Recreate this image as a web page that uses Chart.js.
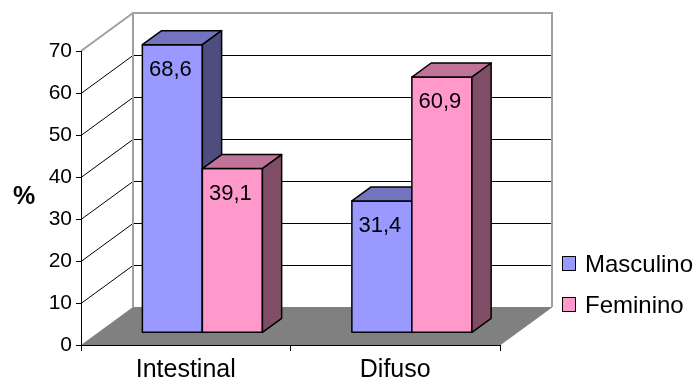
<!DOCTYPE html>
<html>
<head>
<meta charset="utf-8">
<script src="https://cdn.jsdelivr.net/npm/chart.js@4.4.1/dist/chart.umd.min.js"></script>
<style>
  html, body { margin: 0; padding: 0; background: #fff; }
  #wrap { width: 696px; height: 385px; }
</style>
</head>
<body>
<div id="wrap"><canvas id="chart" width="696" height="385"></canvas></div>
<script>
const categories = ["Intestinal", "Difuso"];
const masculino = [68.6, 31.4];
const feminino = [39.1, 60.9];
const yMax = 70;
const yStep = 10;

const FONT = "'Liberation Sans', Arial, sans-serif";

/* ---------- 3D LOOK ---------- */

const DEPTH = { x: 52, y: -38 };      // full depth of floor / walls
const BAR_FRONT = 0.32;               // bars sit between these depth fractions
const BAR_BACK = 0.69;

const faces = [
  { front: "#9999ff", top: "#7373bf", side: "#4d4d80" },
  { front: "#ff99cc", top: "#bf7399", side: "#804d66" }
];

function fmt(v) {
  return v.toFixed(1).replace(".", ",");
}

function poly(ctx, pts, fill, stroke, lw) {
  ctx.beginPath();
  ctx.moveTo(pts[0][0], pts[0][1]);
  for (let i = 1; i < pts.length; i++) ctx.lineTo(pts[i][0], pts[i][1]);
  ctx.closePath();
  if (fill) { ctx.fillStyle = fill; ctx.fill(); }
  if (stroke) { ctx.strokeStyle = stroke; ctx.lineWidth = lw || 1; ctx.stroke(); }
}

/* ---------- PLUGIN: WALLS + FLOOR ---------- */

const walls = {
  id: "walls",
  beforeDraw(chart) {
    const { ctx, chartArea: a, scales } = chart;
    const y = scales.y;
    const dx = DEPTH.x, dy = DEPTH.y;
    ctx.save();

    // floor
    poly(ctx, [[a.left, a.bottom], [a.right, a.bottom], [a.right + dx, a.bottom + dy], [a.left + dx, a.bottom + dy]], "#808080");

    // gridlines on back wall and left wall
    ctx.strokeStyle = "#000";
    ctx.lineWidth = 1;
    for (let v = yStep; v < yMax; v += yStep) {
      const py = Math.round(y.getPixelForValue(v)) + 0.5;
      ctx.beginPath();
      ctx.moveTo(a.left, py);
      ctx.lineTo(a.left + dx, py + dy);
      ctx.lineTo(a.right + dx, py + dy);
      ctx.stroke();
    }

    // wall outlines
    const top = y.getPixelForValue(yMax);
    ctx.strokeStyle = "#a0a0a0";
    ctx.lineWidth = 2;
    ctx.beginPath();
    ctx.moveTo(a.left, top);
    ctx.lineTo(a.left + dx, top + dy);
    ctx.lineTo(a.right + dx, top + dy);
    ctx.lineTo(a.right + dx, a.bottom + dy);
    ctx.moveTo(a.left + dx, top + dy);
    ctx.lineTo(a.left + dx, a.bottom + dy);
    ctx.stroke();

    // right floor edge
    ctx.strokeStyle = "#808080";
    ctx.lineWidth = 1;
    ctx.beginPath();
    ctx.moveTo(a.right + dx, a.bottom + dy);
    ctx.lineTo(a.right, a.bottom);
    ctx.stroke();

    ctx.restore();
  }
};

/* ---------- PLUGIN: 3D BARS + LABELS ---------- */

const bars3d = {
  id: "bars3d",
  beforeDatasetsDraw(chart) {
    const { ctx } = chart;
    const fx = DEPTH.x * BAR_FRONT, fy = DEPTH.y * BAR_FRONT;
    const bx = DEPTH.x * (BAR_BACK - BAR_FRONT), by = DEPTH.y * (BAR_BACK - BAR_FRONT);
    const labels = [];
    ctx.save();
    ctx.lineJoin = "round";
    categories.forEach((c, i) => {
      chart.data.datasets.forEach((ds, d) => {
        const el = chart.getDatasetMeta(d).data[i];
        const p = el.getProps(["x", "y", "base", "width"], true);
        const L = p.x - p.width / 2 + fx, R = p.x + p.width / 2 + fx;
        const T = p.y + fy, B = p.base + fy;
        const f = faces[d];
        poly(ctx, [[L, T], [R, T], [R, B], [L, B]], f.front, "#000", 1.5);
        poly(ctx, [[L, T], [R, T], [R + bx, T + by], [L + bx, T + by]], f.top, "#000", 1.5);
        poly(ctx, [[R, T], [R + bx, T + by], [R + bx, B + by], [R, B]], f.side, "#000", 1.5);
        labels.push({ x: p.x + fx - 2, y: T + 25, text: fmt(ds.data[i]) });
      });
    });
    ctx.fillStyle = "#000";
    ctx.font = "22px " + FONT;
    ctx.textAlign = "center";
    ctx.textBaseline = "middle";
    labels.forEach(l => ctx.fillText(l.text, l.x, l.y));
    ctx.restore();
    return false;
  }
};

/* ---------- PLUGIN: LEGEND + AXIS TITLE ---------- */

const sideText = {
  id: "sideText",
  afterDraw(chart) {
    const { ctx } = chart;
    ctx.save();
    ctx.fillStyle = "#000";
    ctx.font = "bold 25px " + FONT;
    ctx.textAlign = "center";
    ctx.textBaseline = "middle";
    ctx.fillText("%", 24, 197);

    ctx.font = "24px " + FONT;
    ctx.textAlign = "left";
    chart.data.datasets.forEach((ds, d) => {
      const cy = 264 + d * 41;
      ctx.fillStyle = ds.backgroundColor;
      ctx.fillRect(562.5, cy - 7.5, 13, 14);
      ctx.strokeStyle = "#000";
      ctx.lineWidth = 1;
      ctx.strokeRect(562.5, cy - 7.5, 13, 14);
      ctx.fillStyle = "#000";
      ctx.fillText(ds.label, 585, cy + 1);
    });
    ctx.restore();
  }
};

/* ---------- CHART ---------- */

new Chart(document.getElementById("chart"), {
  type: "bar",
  data: {
    labels: categories,
    datasets: [
      { label: "Masculino", data: masculino, backgroundColor: faces[0].front },
      { label: "Feminino", data: feminino, backgroundColor: faces[1].front }
    ]
  },
  options: {
    responsive: false,
    animation: false,
    devicePixelRatio: 1,
    events: [],
    layout: { padding: { top: 51, right: 196, left: 0, bottom: 0 } },
    datasets: { bar: { categoryPercentage: 0.573, barPercentage: 1 } },
    plugins: { legend: { display: false }, tooltip: { enabled: false } },
    scales: {
      x: {
        grid: { offset: true, drawOnChartArea: false, tickLength: 6, color: "#000" },
        border: { color: "#000", width: 1 },
        ticks: { color: "#000", font: { family: FONT, size: 25 }, padding: 4 },
        afterFit(s) { s.height = 40; }
      },
      y: {
        min: 0,
        max: yMax,
        ticks: { stepSize: yStep, color: "#000", font: { family: FONT, size: 21 }, padding: 4 },
        grid: { drawOnChartArea: false, tickLength: 5, color: "#000" },
        border: { color: "#000", width: 1 },
        afterFit(s) { s.width = 81; }
      }
    }
  },
  plugins: [walls, bars3d, sideText]
});
</script>
</body>
</html>
